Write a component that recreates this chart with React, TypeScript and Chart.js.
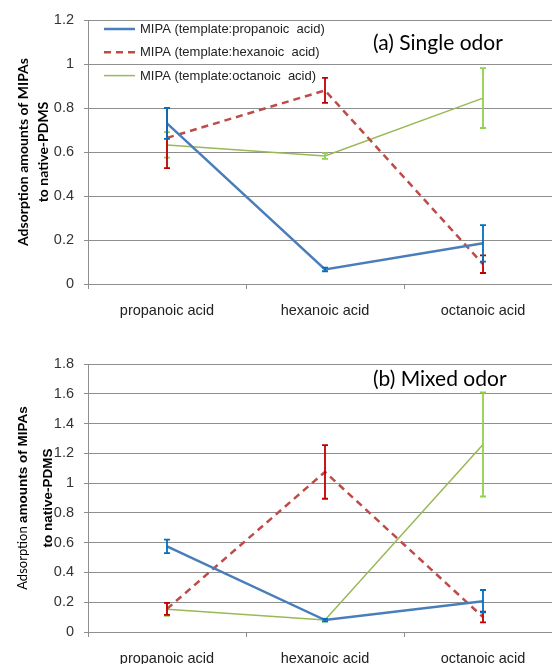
import React, { useEffect, useRef } from "react";
import { Chart, registerables } from "chart.js";

Chart.register(...registerables);

// ---------- data ----------
const categories = ["propanoic acid", "hexanoic acid", "octanoic acid"];
const seriesLabels = [
  "MIPA (template:propanoic  acid)",
  "MIPA (template:hexanoic  acid)",
  "MIPA (template:octanoic  acid)",
];

// (a) Single odor
const singleProp = [0.73, 0.066, 0.185];
const singlePropErr = [0.07, 0.008, 0.083];
const singleHex = [0.664, 0.88, 0.09];
const singleHexErr = [0.137, 0.057, 0.04];
const singleOct = [0.632, 0.582, 0.845];
const singleOctErr = [0.058, 0.013, 0.136];

// (b) Mixed odor
const mixedProp = [0.575, 0.08, 0.207];
const mixedPropErr = [0.045, 0.008, 0.075];
const mixedHex = [0.155, 1.075, 0.1];
const mixedHexErr = [0.04, 0.18, 0.036];
const mixedOct = [0.152, 0.08, 1.26];
const mixedOctErr = [0.043, 0.01, 0.35];

const singleYTicks = ["0", "0.2", "0.4", "0.6", "0.8", "1", "1.2"];
const mixedYTicks = ["0", "0.2", "0.4", "0.6", "0.8", "1", "1.2", "1.4", "1.6", "1.8"];
const singleYMax = 1.2;
const mixedYMax = 1.8;
const yStep = 0.2;

const titleSingle = "(a) Single odor";
const titleMixed = "(b) Mixed odor";

// ---------- styles ----------
const lineColors = ["#4a7ebb", "#be4b48", "#98b954"];
const errColors = ["#0070c0", "#c00000", "#92d050"];
const lineWidths = [2.5, 2.5, 1.5];
const dashes: number[][] = [[], [7, 5], []];
const gridColor = "#8e8e8e";
const tickFont = { family: "'Liberation Sans', Arial, sans-serif", size: 14.5 };

const errorBarPlugin = {
  id: "errorBars",
  afterDatasetDraw(chart: any, args: any) {
    const ds: any = chart.data.datasets[args.index];
    if (!ds.errors) return;
    const meta = chart.getDatasetMeta(args.index);
    const ys = chart.scales.y;
    const ctx = chart.ctx;
    ctx.save();
    ctx.strokeStyle = ds.errorColor;
    ctx.lineWidth = 1.8;
    ctx.setLineDash([]);
    meta.data.forEach((pt: any, j: number) => {
      const v = ds.data[j];
      const e = ds.errors[j];
      const x = pt.x;
      const t = ys.getPixelForValue(v + e);
      const b = ys.getPixelForValue(v - e);
      ctx.beginPath();
      ctx.moveTo(x, t);
      ctx.lineTo(x, b);
      ctx.moveTo(x - 3, t);
      ctx.lineTo(x + 3, t);
      ctx.moveTo(x - 3, b);
      ctx.lineTo(x + 3, b);
      ctx.stroke();
    });
    ctx.restore();
  },
};

const decorPlugin = {
  id: "decor",
  afterDraw(chart: any) {
    const o = chart.options.plugins.decor;
    if (!o) return;
    const ctx = chart.ctx;
    const ca = chart.chartArea;
    ctx.save();
    ctx.fillStyle = "#000";
    ctx.font = o.titleFont;
    ctx.textAlign = "left";
    ctx.textBaseline = "middle";
    ctx.fillText(o.title, ca.left + o.titleDx, ca.top + o.titleDy);

    const cy = (ca.top + ca.bottom) / 2;
    o.yTitle.forEach((segs: any[], li: number) => {
      ctx.save();
      ctx.translate(o.yTitleX[li], cy);
      ctx.rotate(-Math.PI / 2);
      ctx.textBaseline = "middle";
      ctx.textAlign = "left";
      ctx.fillStyle = "#000";
      let total = 0;
      segs.forEach((s) => {
        ctx.font = s.font;
        total += ctx.measureText(s.text).width;
      });
      let x = -total / 2;
      segs.forEach((s) => {
        ctx.font = s.font;
        ctx.fillText(s.text, x, 0);
        x += ctx.measureText(s.text).width;
      });
      ctx.restore();
    });

    if (o.legend) {
      chart.data.datasets.forEach((ds: any, i: number) => {
        const y = ca.top + 9 + i * 23.3;
        const x0 = ca.left + 16;
        ctx.save();
        ctx.strokeStyle = ds.borderColor;
        ctx.lineWidth = ds.borderWidth;
        ctx.setLineDash(ds.borderDash || []);
        ctx.beginPath();
        ctx.moveTo(x0, y);
        ctx.lineTo(x0 + 31, y);
        ctx.stroke();
        ctx.restore();
        ctx.fillStyle = "#222";
        ctx.font = "13px 'Liberation Sans', Arial, sans-serif";
        ctx.textBaseline = "middle";
        ctx.fillText(ds.label, x0 + 36, y + 0.5);
      });
    }
    ctx.restore();
  },
};

function buildConfig(
  values: number[][],
  errors: number[][],
  yMax: number,
  yTickLabels: string[],
  xAxisHeight: number,
  padTop: number,
  decor: any
): any {
  return {
    type: "line",
    data: {
      labels: categories,
      datasets: values.map((v, i) => ({
        label: seriesLabels[i],
        data: v,
        errors: errors[i],
        errorColor: errColors[i],
        borderColor: lineColors[i],
        backgroundColor: lineColors[i],
        borderWidth: lineWidths[i],
        borderDash: dashes[i],
        pointRadius: 0,
        tension: 0,
        fill: false,
      })),
    },
    options: {
      responsive: false,
      animation: false,
      layout: { padding: { top: padTop, left: 0, right: 0, bottom: 0 } },
      plugins: {
        legend: { display: false },
        tooltip: { enabled: false },
        decor,
      },
      scales: {
        x: {
          type: "category",
          offset: true,
          grid: {
            offset: true,
            drawOnChartArea: false,
            drawTicks: true,
            tickLength: 5,
            color: gridColor,
          },
          border: { color: gridColor, width: 1 },
          ticks: { color: "#222", font: tickFont, padding: 13, maxRotation: 0 },
          afterFit: (s: any) => {
            s.height = xAxisHeight;
          },
        },
        y: {
          min: 0,
          max: yMax,
          ticks: {
            stepSize: yStep,
            color: "#333",
            font: tickFont,
            padding: 10,
            callback: (_v: any, i: number) => yTickLabels[i],
          },
          grid: { color: gridColor, lineWidth: 1, tickLength: 4 },
          border: { color: gridColor, width: 1 },
          afterFit: (s: any) => {
            s.width = 88;
          },
        },
      },
    },
    plugins: [errorBarPlugin, decorPlugin],
  };
}

function ChartCanvas(props: { config: any; top: number; width: number; height: number }) {
  const ref = useRef<HTMLCanvasElement | null>(null);
  useEffect(() => {
    if (!ref.current) return;
    const ch = new Chart(ref.current, props.config);
    return () => ch.destroy();
  }, []);
  return (
    <canvas
      ref={ref}
      width={props.width}
      height={props.height}
      style={{ position: "absolute", left: 0, top: props.top, width: props.width, height: props.height }}
    />
  );
}

export default function App() {
  const topCfg = buildConfig(
    [singleProp, singleHex, singleOct],
    [singlePropErr, singleHexErr, singleOctErr],
    singleYMax,
    singleYTicks,
    330 - 284,
    20,
    {
      title: titleSingle,
      titleFont: "21px Lato, 'Open Sans', sans-serif",
      titleDx: 285,
      titleDy: 23.5,
      legend: true,
      yTitle: [
        [{ text: "Adsorption amounts of MIPAs", font: "bold 14px Lato, sans-serif" }],
        [{ text: "to native-PDMS", font: "bold 14px Lato, sans-serif" }],
      ],
      yTitleX: [23, 43],
    }
  );
  const bottomCfg = buildConfig(
    [mixedProp, mixedHex, mixedOct],
    [mixedPropErr, mixedHexErr, mixedOctErr],
    mixedYMax,
    mixedYTicks,
    334 - 302,
    34,
    {
      title: titleMixed,
      titleFont: "21px Lato, 'Open Sans', sans-serif",
      titleDx: 285,
      titleDy: 15.5,
      legend: false,
      yTitle: [
        [
          { text: "Adsorption ", font: "13px Lato, sans-serif" },
          { text: "amounts of MIPAs", font: "bold 13.5px 'Liberation Sans', Arial, sans-serif" },
        ],
        [{ text: "to native-PDMS", font: "bold 13.5px 'Liberation Sans', Arial, sans-serif" }],
      ],
      yTitleX: [23, 48],
    }
  );
  return (
    <div
      style={{
        position: "absolute",
        left: 0,
        top: 0,
        width: 552,
        height: 664,
        overflow: "hidden",
        background: "#fff",
      }}
    >
      <ChartCanvas config={topCfg} top={0} width={562} height={330} />
      <ChartCanvas config={bottomCfg} top={330} width={562} height={334} />
    </div>
  );
}
